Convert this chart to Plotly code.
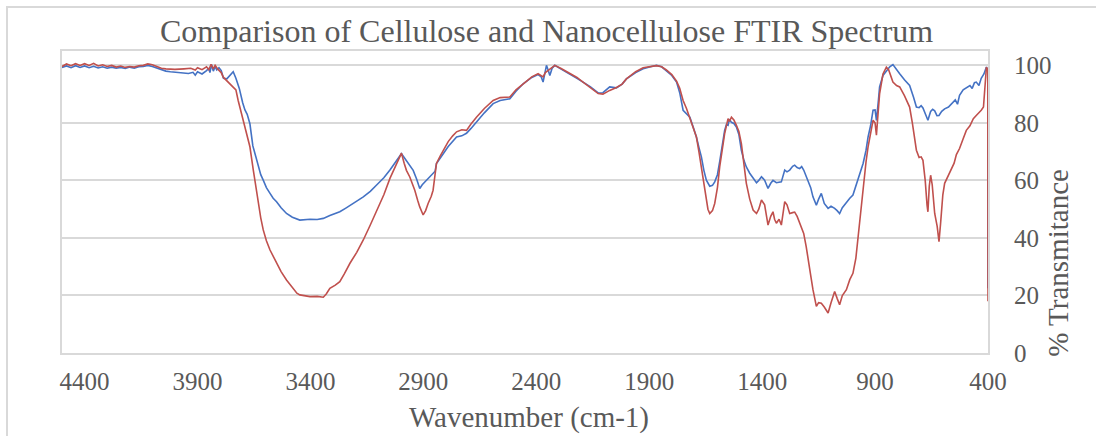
import plotly.graph_objects as go

# ---- data ----
wn_cellulose = [4500, 4480, 4460, 4440, 4420, 4400, 4380, 4360, 4340, 4320, 4300, 4280, 4260, 4240, 4220, 4200,
                4180, 4160, 4140, 4120, 4100, 4080, 4060, 4040, 4020, 4000, 3980, 3960, 3940, 3920, 3910, 3900,
                3880, 3860, 3850, 3845, 3838, 3830, 3822, 3815, 3805, 3795, 3785, 3770, 3755, 3742, 3730, 3715,
                3700, 3690, 3680, 3668, 3655, 3640, 3631, 3620, 3609, 3595, 3579, 3565, 3550, 3530, 3506, 3480,
                3447, 3420, 3402, 3370, 3343, 3314, 3290, 3270, 3245, 3225, 3195, 3166, 3135, 3107, 3075, 3048,
                3020, 2997, 2985, 2960, 2945, 2930, 2916, 2905, 2890, 2879, 2865, 2857, 2848, 2842, 2825, 2812,
                2790, 2770, 2753, 2730, 2709, 2690, 2665, 2630, 2591, 2560, 2517, 2490, 2458, 2420, 2392, 2378,
                2370, 2362, 2355, 2348, 2340, 2330, 2318, 2290, 2252, 2220, 2193, 2160, 2126, 2105, 2075, 2045,
                2020, 2001, 1960, 1927, 1890, 1868, 1845, 1824, 1800, 1779, 1765, 1750, 1735, 1720, 1705, 1691,
                1680, 1669, 1658, 1647, 1632, 1620, 1610, 1598, 1588, 1575, 1566, 1558, 1551, 1545, 1536, 1525,
                1514, 1503, 1492, 1480, 1470, 1455, 1440, 1425, 1415, 1403, 1389, 1374, 1362, 1352, 1337, 1325,
                1315, 1300, 1290, 1278, 1265, 1256, 1245, 1234, 1225, 1216, 1205, 1197, 1185, 1175, 1160, 1150,
                1138, 1125, 1108, 1095, 1079, 1068, 1057, 1045, 1027, 1012, 998, 985, 975, 965, 953, 940,
                931, 920, 909, 900, 894, 885, 880, 865, 850, 835, 821, 805, 791, 770, 747, 730,
                717, 705, 696, 688, 676, 666, 660, 654, 645, 636, 626, 617, 605, 592, 575, 562,
                545, 535, 526, 510, 496, 480, 470, 460, 452, 440, 430, 418, 407, 401, 400]
t_cellulose = [99.3, 99.8, 99.2, 99.9, 99.3, 99.8, 99.2, 99.7, 99.1, 99.5, 99.0, 99.4, 99.0, 99.3, 98.9, 99.4,
               99.0, 99.5, 99.6, 100.0, 99.6, 99.0, 98.5, 98.0, 97.8, 97.6, 97.5, 97.3, 97.2, 97.6, 96.6, 97.8,
               97.0, 98.2, 99.0, 97.5, 100.3, 98.0, 99.6, 98.4, 99.2, 98.2, 95.5, 95.3, 96.5, 97.8, 95.5, 92.0,
               87.0, 84.5, 83.0, 79.7, 72.0, 67.5, 64.7, 62.0, 60.1, 57.5, 55.5, 53.8, 52.6, 50.5, 48.5, 47.2,
               46.2, 46.4, 46.5, 46.4, 46.8, 47.8, 48.5, 49.1, 50.3, 51.4, 52.8, 54.3, 56.2, 58.4, 60.9, 63.6,
               66.5, 69.3, 68.0, 65.3, 63.5, 60.5, 57.2, 58.5, 59.8, 60.7, 61.8, 62.4, 63.2, 65.9, 68.0, 69.3,
               71.8, 73.8, 75.1, 75.5, 76.4, 78.0, 80.3, 83.5, 86.7, 87.8, 88.4, 91.0, 93.6, 95.8, 96.8, 96.0,
               94.2, 97.0, 100.0, 98.5, 96.5, 99.0, 100.0, 98.7, 97.1, 95.5, 94.2, 92.5, 90.4, 90.5, 92.5, 92.2,
               93.5, 95.3, 97.5, 98.8, 99.6, 100.0, 99.5, 98.2, 96.5, 94.2, 90.5, 84.4, 83.0, 82.0, 78.5, 75.1,
               71.5, 68.2, 63.5, 60.1, 58.0, 58.3, 59.5, 62.0, 66.5, 73.0, 77.4, 79.5, 79.2, 81.3, 80.2, 79.8,
               78.6, 76.0, 70.5, 66.8, 64.7, 62.5, 60.7, 59.2, 60.0, 61.3, 60.1, 57.2, 59.0, 60.0, 59.2, 59.5,
               59.5, 63.6, 63.0, 63.6, 64.9, 65.3, 64.5, 64.1, 64.8, 63.6, 61.5, 60.1, 57.5, 54.3, 51.4, 53.5,
               55.5, 52.0, 50.3, 51.0, 50.3, 49.5, 48.5, 50.5, 52.5, 53.8, 54.9, 58.0, 60.7, 63.0, 65.9, 70.5,
               75.1, 79.0, 84.4, 84.5, 80.9, 88.0, 92.5, 96.5, 98.0, 99.5, 100.3, 98.8, 97.1, 95.0, 93.0, 89.0,
               85.5, 85.3, 86.0, 85.2, 82.5, 80.9, 82.5, 84.0, 84.7, 84.2, 82.5, 82.6, 84.0, 84.9, 85.5, 86.5,
               88.0, 86.5, 89.6, 91.5, 92.2, 93.0, 92.0, 94.0, 94.2, 93.0, 95.5, 97.0, 99.4, 98.5, 22.5]

wn_nano = [4500, 4480, 4460, 4440, 4420, 4400, 4380, 4360, 4340, 4320, 4300, 4280, 4260, 4240, 4220, 4200,
           4180, 4160, 4140, 4120, 4100, 4080, 4060, 4040, 4020, 4000, 3960, 3930, 3910, 3900, 3880, 3860,
           3850, 3840, 3830, 3822, 3810, 3795, 3786, 3764, 3742, 3730, 3720, 3710, 3698, 3683, 3668, 3653,
           3640, 3631, 3620, 3609, 3595, 3579, 3565, 3550, 3530, 3506, 3480, 3460, 3447, 3420, 3402, 3370,
           3343, 3330, 3314, 3290, 3270, 3250, 3225, 3195, 3166, 3135, 3107, 3075, 3048, 3020, 2997, 2985,
           2975, 2960, 2938, 2925, 2916, 2901, 2890, 2879, 2865, 2857, 2850, 2842, 2825, 2812, 2790, 2770,
           2753, 2730, 2709, 2690, 2665, 2630, 2591, 2560, 2517, 2490, 2458, 2420, 2392, 2370, 2360, 2340,
           2318, 2290, 2252, 2220, 2193, 2160, 2126, 2105, 2075, 2045, 2020, 2001, 1960, 1927, 1890, 1868,
           1845, 1824, 1800, 1779, 1765, 1750, 1735, 1720, 1705, 1691, 1680, 1669, 1658, 1647, 1640, 1632,
           1620, 1610, 1598, 1588, 1575, 1566, 1551, 1545, 1536, 1525, 1514, 1503, 1492, 1480, 1470, 1455,
           1440, 1425, 1415, 1403, 1389, 1374, 1362, 1352, 1345, 1337, 1325, 1315, 1300, 1290, 1278, 1265,
           1256, 1245, 1234, 1225, 1216, 1205, 1197, 1185, 1175, 1160, 1150, 1138, 1125, 1108, 1095, 1079,
           1068, 1057, 1045, 1035, 1027, 1012, 998, 985, 975, 965, 953, 940, 931, 920, 909, 900,
           894, 888, 880, 865, 850, 840, 821, 805, 791, 770, 747, 735, 725, 717, 705, 696,
           688, 678, 670, 666, 660, 654, 647, 636, 625, 617, 610, 600, 592, 580, 570, 562,
           550, 540, 526, 510, 496, 480, 465, 452, 440, 430, 420, 413, 407, 401, 400]
t_nano = [99.6, 100.5, 99.9, 100.6, 100.0, 100.6, 100.0, 100.7, 99.8, 100.2, 99.6, 100.0, 99.4, 99.8, 99.3, 99.6,
          99.4, 99.9, 100.0, 100.5, 100.2, 99.5, 99.0, 98.8, 98.6, 98.6, 98.8, 99.0, 98.4, 99.2, 98.5, 99.5,
          98.5, 100.4, 98.8, 100.0, 98.7, 97.5, 95.9, 94.2, 92.7, 91.5, 87.8, 84.5, 80.9, 76.0, 71.7, 63.6,
          57.0, 52.0, 47.0, 42.8, 39.0, 35.8, 33.5, 31.2, 28.3, 25.4, 22.8, 20.8, 20.2, 19.8, 19.6, 19.7,
          19.4, 20.5, 22.5, 23.6, 24.8, 27.5, 31.2, 35.0, 39.3, 44.5, 49.7, 55.0, 60.7, 65.5, 69.5, 66.0,
          63.5, 61.2, 56.6, 53.0, 50.8, 48.0, 49.5, 52.0, 54.5, 56.6, 61.5, 65.9, 68.5, 70.5, 73.5, 75.5,
          76.9, 77.6, 77.4, 79.5, 82.0, 85.0, 87.8, 88.8, 89.0, 91.5, 93.6, 96.0, 97.1, 96.0, 97.5, 98.8,
          100.0, 98.9, 97.1, 95.8, 94.2, 92.3, 90.2, 90.0, 91.3, 92.3, 93.5, 95.3, 97.8, 99.2, 99.8, 99.9,
          99.5, 98.4, 96.8, 94.5, 92.0, 87.8, 85.0, 81.5, 78.0, 75.1, 70.0, 64.7, 59.0, 53.2, 50.0, 48.5,
          49.5, 52.0, 57.5, 64.7, 71.5, 76.3, 81.5, 80.5, 82.0, 81.0, 79.2, 77.0, 72.8, 66.0, 59.0, 53.5,
          49.7, 48.5, 50.0, 53.2, 51.5, 44.5, 47.5, 49.1, 46.5, 45.1, 46.5, 44.5, 52.6, 51.5, 48.5, 48.8,
          49.0, 47.5, 45.1, 43.5, 41.6, 37.0, 32.4, 27.0, 22.0, 16.2, 17.5, 17.3, 16.0, 13.9, 17.5, 21.4,
          19.0, 16.8, 20.0, 21.0, 22.0, 25.5, 27.7, 33.0, 40.4, 49.0, 59.0, 66.5, 71.7, 77.0, 80.9, 80.0,
          75.7, 82.0, 90.1, 97.0, 99.4, 98.5, 94.2, 93.0, 92.5, 89.5, 85.5, 80.0, 74.0, 70.5, 68.0, 68.2,
          67.0, 60.0, 51.5, 49.1, 58.0, 61.8, 58.5, 48.5, 44.0, 38.7, 45.0, 55.0, 59.0, 61.0, 62.8, 63.6,
          66.0, 69.0, 71.1, 74.5, 77.4, 79.0, 81.5, 82.6, 83.5, 84.4, 85.5, 92.0, 99.4, 98.5, 18.0]

x_tick_values = [4400, 3900, 3400, 2900, 2400, 1900, 1400, 900, 400]
y_tick_values = [0, 20, 40, 60, 80, 100]

title_text = "Comparison of Cellulose and Nanocellulose FTIR Spectrum"
x_title = "Wavenumber (cm-1)"
y_title = "% Transmitance"

FONT = "Liberation Serif, Times New Roman, serif"
TXT = "#595959"
GRID = "#D9D9D9"

fig = go.Figure()
fig.add_trace(go.Scatter(x=wn_cellulose, y=t_cellulose, mode="lines", name="Cellulose",
                         line=dict(color="#4472C4", width=1.6)))
fig.add_trace(go.Scatter(x=wn_nano, y=t_nano, mode="lines", name="Nanocellulose",
                         line=dict(color="#C0504D", width=1.6)))

fig.update_layout(
    width=1096, height=436,
    margin=dict(l=62, r=108, t=51, b=83),
    paper_bgcolor="white", plot_bgcolor="white",
    showlegend=False,
    font=dict(family=FONT, color=TXT, size=25),
    xaxis=dict(range=[4500, 400], tickvals=x_tick_values, showgrid=False, zeroline=False,
               showline=True, linecolor=GRID, linewidth=2, mirror=True,
               ticks="", ticklabelstandoff=5, tickfont=dict(size=25, family=FONT, color=TXT)),
    yaxis=dict(range=[0, 105], tickvals=y_tick_values, side="right", showgrid=True,
               gridcolor=GRID, gridwidth=1.5, zeroline=False,
               showline=True, linecolor=GRID, linewidth=2, mirror=True,
               ticks="", ticklabelstandoff=19, tickfont=dict(size=25, family=FONT, color=TXT)),
    annotations=[
        dict(text=title_text, xref="paper", yref="paper", x=0.523, y=1.066,
             xanchor="center", yanchor="middle", showarrow=False,
             font=dict(size=32, family=FONT, color=TXT)),
        dict(text=x_title, xref="paper", yref="paper", x=0.504, y=-0.215,
             xanchor="center", yanchor="middle", showarrow=False,
             font=dict(size=29, family=FONT, color=TXT)),
        dict(text=y_title, xref="paper", yref="paper", x=1.076, y=0.30,
             xanchor="center", yanchor="middle", showarrow=False, textangle=-90,
             font=dict(size=29, family=FONT, color=TXT)),
    ],
    shapes=[
        dict(type="rect", xref="paper", yref="paper", x0=-0.0594, x1=1.3, y0=-0.5, y1=1.1457,
             line=dict(color=GRID, width=2), fillcolor="rgba(0,0,0,0)", layer="below"),
    ],
)

fig.write_html("out.html")
